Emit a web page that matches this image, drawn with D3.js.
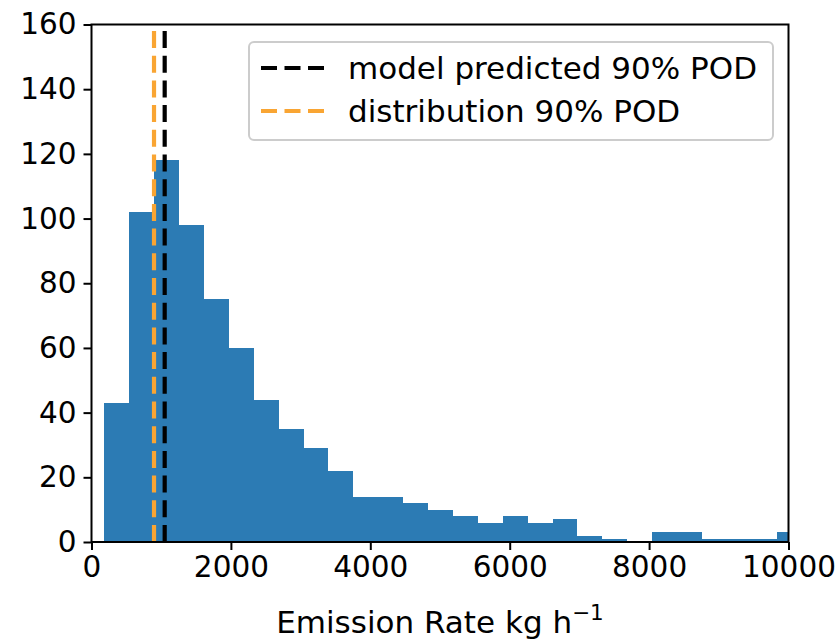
<!DOCTYPE html>
<html><head><meta charset="utf-8">
<script src="https://cdn.jsdelivr.net/npm/d3@7"></script>
<style>html,body{margin:0;padding:0;background:#fff;}svg{display:block;font-family:"DejaVu Sans",sans-serif;}</style>
</head><body><svg id="c" width="838" height="639"></svg>
<script>
// ---- data ----
const binStart = 184;        // first bin edge (kg/h)
const binWidth = 357.3;      // bin width (kg/h)
const counts = [43,102,118,98,75,60,44,35,29,22,14,14,12,10,8,6,8,6,7,2,1,0,3,3,1,1,1,3];
const xTicks = [0,2000,4000,6000,8000,10000];
const yTicks = [0,20,40,60,80,100,120,140,160];
const podLines = [
  {label:"model predicted 90% POD", value:1050, color:"#000000"},
  {label:"distribution 90% POD", value:897, color:"#f9a533"}
];

// ---- layout ----
const L=91.5, R=788.5, T=24.5, B=542;
const svg=d3.select("#c");
const x=d3.scaleLinear().domain([0,10000]).range([L,R]);
const y=d3.scaleLinear().domain([0,160]).range([B,T]);

svg.append("defs").append("clipPath").attr("id","clip")
  .append("rect").attr("x",L).attr("y",T).attr("width",R-L).attr("height",B-T);

const bins = counts.map((c,i)=>({x0:binStart+i*binWidth, x1:binStart+(i+1)*binWidth, c}));
const g=svg.append("g").attr("clip-path","url(#clip)");
g.selectAll("rect.bar").data(bins).join("rect").attr("class","bar")
  .attr("x",d=>x(d.x0)).attr("width",d=>x(d.x1)-x(d.x0))
  .attr("y",d=>y(d.c)).attr("height",d=>y(0)-y(d.c))
  .attr("fill","#2c7bb4").attr("shape-rendering","crispEdges");

g.selectAll("line.pod").data(podLines.slice().reverse()).join("line").attr("class","pod")
  .attr("x1",d=>x(d.value)).attr("x2",d=>x(d.value))
  .attr("y1",y(0)).attr("y2",y(160))
  .attr("stroke",d=>d.color).attr("stroke-width",4.2)
  .attr("stroke-dasharray","17,7.7");

// axes
const xAxis=d3.axisBottom(x).tickValues(xTicks).tickFormat(d3.format("d")).tickSize(8).tickPadding(6);
const yAxis=d3.axisLeft(y).tickValues(yTicks).tickSize(8).tickPadding(7);
const gx=svg.append("g").attr("transform",`translate(0,${B})`).call(xAxis);
const gy=svg.append("g").attr("transform",`translate(${L},0)`).call(yAxis);
[gx,gy].forEach(a=>{
  a.select(".domain").remove();
  a.selectAll(".tick line").attr("stroke","#000").attr("stroke-width",2);
  a.selectAll(".tick text").attr("fill","#000").attr("font-size","29.5px").attr("font-family","DejaVu Sans");
});
svg.append("rect").attr("x",L).attr("y",T).attr("width",R-L).attr("height",B-T)
  .attr("fill","none").attr("stroke","#000").attr("stroke-width",2);

// x label
const xl=svg.append("text").attr("x",440).attr("y",633).attr("text-anchor","middle")
  .attr("font-size","31px").attr("fill","#000");
xl.append("tspan").text("Emission Rate kg h");
xl.append("tspan").attr("dy",-13).attr("font-size","21.5px").text("\u22121");

// legend
const lg=svg.append("g");
lg.append("rect").attr("x",249).attr("y",42).attr("width",524).attr("height",98)
  .attr("rx",5).attr("fill","#fff").attr("fill-opacity",0.8).attr("stroke","#cccccc").attr("stroke-width",2);
podLines.forEach((d,i)=>{
  const cy=68+i*43;
  lg.append("line").attr("x1",261).attr("x2",325).attr("y1",cy).attr("y2",cy)
    .attr("stroke",d.color).attr("stroke-width",4.2).attr("stroke-dasharray","16,7.5");
  lg.append("text").attr("x",348).attr("y",cy+11).attr("font-size","31px").attr("fill","#000").text(d.label);
});
</script></body></html>
